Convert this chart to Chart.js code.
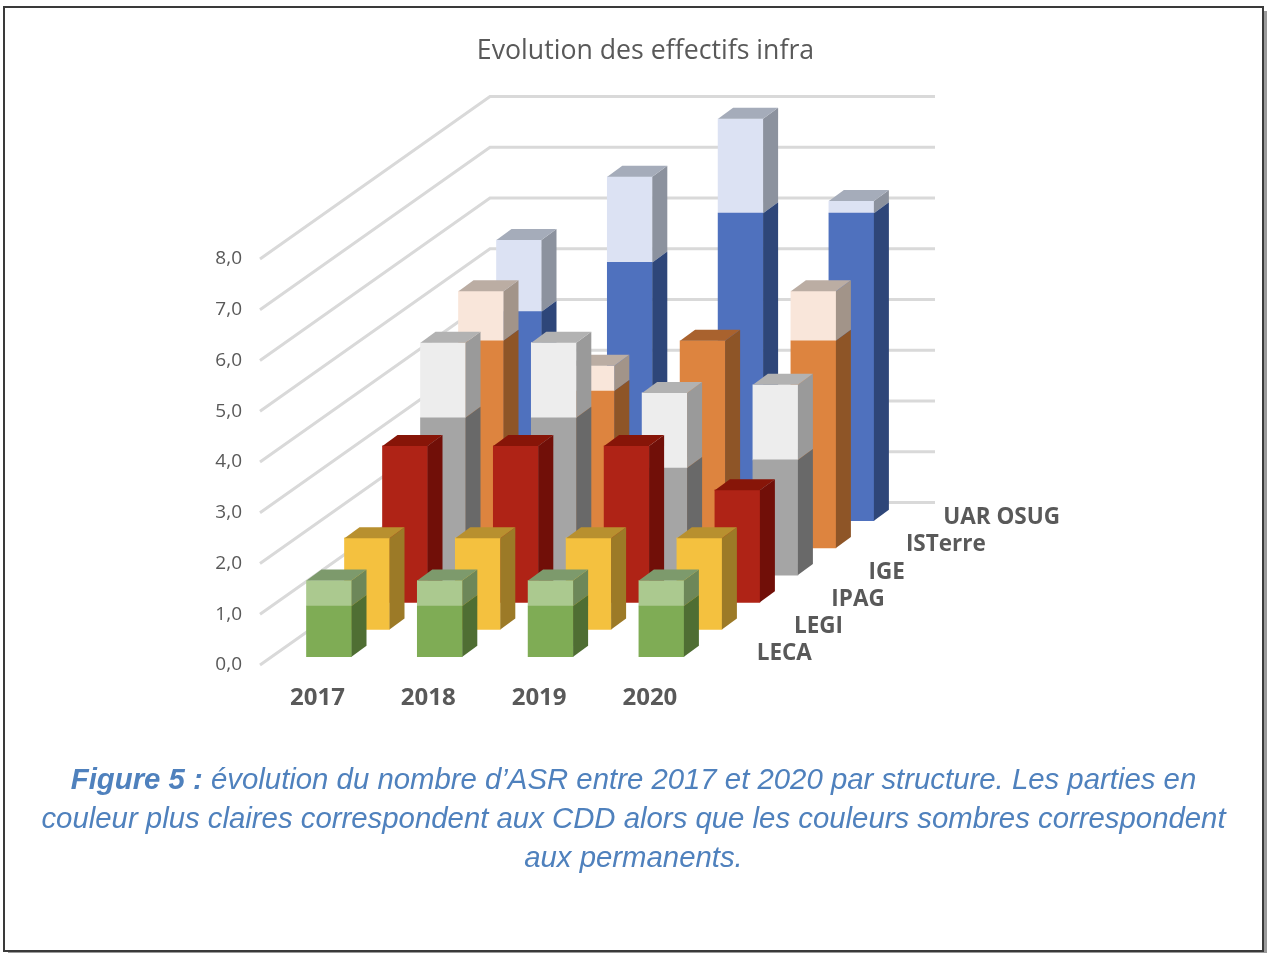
<!DOCTYPE html>
<html lang="fr"><head><meta charset="utf-8">
<title>Evolution des effectifs infra</title>
<script src="https://cdn.jsdelivr.net/npm/chart.js@4"></script>
<style>
html,body{margin:0;padding:0;background:#fff;width:1267px;height:953px;overflow:hidden}
#shadow{position:absolute;left:8px;top:11px;width:1259px;height:942px;background:#9b9b9b}
#frame{position:absolute;left:3px;top:6px;width:1257px;height:942px;border:2px solid #3a3a3a;background:#fff}
canvas{position:absolute;left:0;top:0}
#caption{position:absolute;left:0;top:759px;width:1267px;text-align:center;color:#4f81bd;
 font:italic 29.35px/39px "Liberation Sans",Arial,sans-serif;white-space:nowrap}
</style></head><body>
<div id="shadow"></div><div id="frame"></div>
<canvas id="c" width="1267" height="953"></canvas>
<div id="caption"></div>
<script>
const chartTitle = 'Evolution des effectifs infra';
const years = [2017, 2018, 2019, 2020];
const structures = ['LECA', 'LEGI', 'IPAG', 'IGE', 'ISTerre', 'UAR OSUG'];
const yTicks = [0, 1, 2, 3, 4, 5, 6, 7, 8];

const lecaPerm = [1, 1, 1, 1];        const lecaCdd = [0.5, 0.5, 0.5, 0.5];
const legiPerm = [1.8, 1.8, 1.8, 1.8]; const legiCdd = [0, 0, 0, 0];
const ipagPerm = [3.08, 3.08, 3.08, 2.21]; const ipagCdd = [0, 0, 0, 0];
const igePerm = [3.1, 3.1, 2.11, 2.27];  const igeCdd = [1.48, 1.48, 1.48, 1.48];
const isterrePerm = [4.08, 3.09, 4.08, 4.08]; const isterreCdd = [0.98, 0.5, 0, 0.98];
const osugPerm = [4.12, 5.09, 6.06, 6.06]; const osugCdd = [1.41, 1.69, 1.86, 0.24];

const permValues = [lecaPerm, legiPerm, ipagPerm, igePerm, isterrePerm, osugPerm];
const cddValues = [lecaCdd, legiCdd, ipagCdd, igeCdd, isterreCdd, osugCdd];

const captionBold = 'Figure 5 :';
const captionLines = [
  ' évolution du nombre d’ASR entre 2017 et 2020 par structure. Les parties en',
  'couleur plus claires correspondent aux CDD alors que les couleurs sombres correspondent',
  'aux permanents.'
];

// front, side, top colours
const permColors = [['#7FAC55','#4F6E33','#7D9A6C'],['#F4C13F','#9C7A27','#B8902F'],['#AF2316','#710F08','#871508'],
                    ['#A5A5A5','#696969','#B2B2B2'],['#DD843F','#8E5527','#A9622E'],['#4F71BE','#2E4679','#A5ACBA']];
const cddColors  = [['#ABC98F','#6D8759','#7D9A6C'],['#F4C13F','#9C7A27','#B8902F'],['#AF2316','#710F08','#871508'],
                    ['#EDEDED','#9A9A9A','#B2B2B2'],['#F9E6DA','#A29489','#BBADA3'],['#DCE2F3','#8C929E','#A5ACBA']];

const textColor = '#595959';
const gridColor = '#D9D9D9';
const pxPerUnit = 50.75, pxPerYear = 110.8;
const stepX = 38, stepY = 27.2;          // shift between two rows of bars
const depthX = 15, depthY = 11;          // depth of one bar
const wallX = 230, wallY = 162.5, wallEnd = 935;
const plotW = 1007, plotH = 406;

document.getElementById('caption').innerHTML =
  '<b>' + captionBold + '</b>' + captionLines[0] + '<br>' + captionLines[1] + '<br>' + captionLines[2];

const axisMinX = 2017 - 57.5/pxPerYear;
const datasets = [], scales = {
  x: {type:'linear', offset:false, min:axisMinX, max:axisMinX + plotW/pxPerYear, grid:{display:false}, border:{display:false},
      afterBuildTicks(s){ s.ticks = years.map(v => ({value:v})); },
      afterFit(s){ s.height = 288; },
      ticks:{padding:11, color:textColor, font:{family:'"Open Sans"', size:24, weight:'bold'},
             maxRotation:0, autoSkip:false, callback:v => String(v)}},
  y: {type:'linear', min:0, max:8, grid:{display:false}, border:{display:false},
      afterBuildTicks(s){ s.ticks = yTicks.map(v => ({value:v})); },
      afterFit(s){ s.width = 236; },
      ticks:{padding:10, color:textColor, font:{family:'"Open Sans"', size:19},
             callback:v => v.toFixed(1).replace('.', ',')}}
};
structures.forEach((name, s) => {
  const xMin = 2017 - (69 + stepX*s)/pxPerYear;
  const yMin = -(8.3 + stepY*s)/pxPerUnit;
  scales['x'+s] = {type:'linear', display:false, offset:false, stacked:true, min:xMin, max:xMin + plotW/pxPerYear};
  scales['y'+s] = {type:'linear', display:false, stacked:true, min:yMin, max:yMin + plotH/pxPerUnit};
  [[permValues[s], permColors[s], 'permanents'], [cddValues[s], cddColors[s], 'CDD']].forEach(([vals, col, kind], k) => {
    datasets.push({label:name+' '+kind, xAxisID:'x'+s, yAxisID:'y'+s, barThickness:45, grouped:false, clip:false,
      backgroundColor:col[0], borderWidth:0, colors3d:col, row:s, part:k,
      data:years.map((yr,i) => ({x:yr, y:vals[i]}))});
  });
});

const bars3d = {
  id:'bars3d',
  beforeDatasetsDraw(chart){
    const c = chart.ctx, ys = chart.scales.y;
    c.save(); c.strokeStyle = gridColor; c.lineWidth = 3; c.lineCap = 'butt';
    yTicks.forEach(v => {
      const y = ys.getPixelForValue(v), l = chart.chartArea.left;
      c.beginPath(); c.moveTo(l, y); c.lineTo(l + wallX, y - wallY); c.lineTo(wallEnd, y - wallY); c.stroke();
    });
    c.restore();
  },
  afterDatasetDraw(chart, args){
    const c = chart.ctx, ds = chart.data.datasets[args.index], meta = args.meta;
    c.save();
    meta.data.forEach((b, i) => {
      const p = b.getProps(['x','y','base','width'], true);
      const h = Math.abs(p.base - p.y);
      if (h < 0.5) return;
      const r = p.x + p.width/2, l = p.x - p.width/2;
      c.fillStyle = ds.colors3d[1];
      c.beginPath(); c.moveTo(r, p.y); c.lineTo(r+depthX, p.y-depthY); c.lineTo(r+depthX, p.base-depthY); c.lineTo(r, p.base); c.closePath(); c.fill();
      const above = ds.part === 0 ? cddValues[ds.row][i] : 0;
      if (!above) {
        c.fillStyle = ds.colors3d[2];
        c.beginPath(); c.moveTo(l, p.y); c.lineTo(l+depthX, p.y-depthY); c.lineTo(r+depthX, p.y-depthY); c.lineTo(r, p.y); c.closePath(); c.fill();
      }
    });
    c.restore();
  },
  afterDatasetsDraw(chart){
    const c = chart.ctx;
    c.save(); c.fillStyle = textColor; c.font = 'bold 22.5px "Open Sans"'; c.textAlign = 'left'; c.textBaseline = 'middle';
    const lastYear = years[years.length-1];
    structures.forEach((name, s) => {
      const x = chart.scales.x0.getPixelForValue(lastYear) + 95.3 + 37.3*s;
      const y = chart.scales['y'+s].getPixelForValue(0) - 3;
      c.fillText(name, x, y);
    });
    c.restore();
  }
};

new Chart(document.getElementById('c'), {
  type:'bar',
  data:{datasets},
  plugins:[bars3d],
  options:{
    responsive:false, animation:false, events:[],
    layout:{padding:{left:24, right:0, top:0, bottom:0}},
    scales,
    plugins:{
      legend:{display:false}, tooltip:{enabled:false},
      title:{display:true, text:chartTitle, color:textColor, font:{family:'"Open Sans"', size:26.7, weight:'normal'},
             padding:{top:35, bottom:192}}
    }
  }
});
</script>
</body></html>
